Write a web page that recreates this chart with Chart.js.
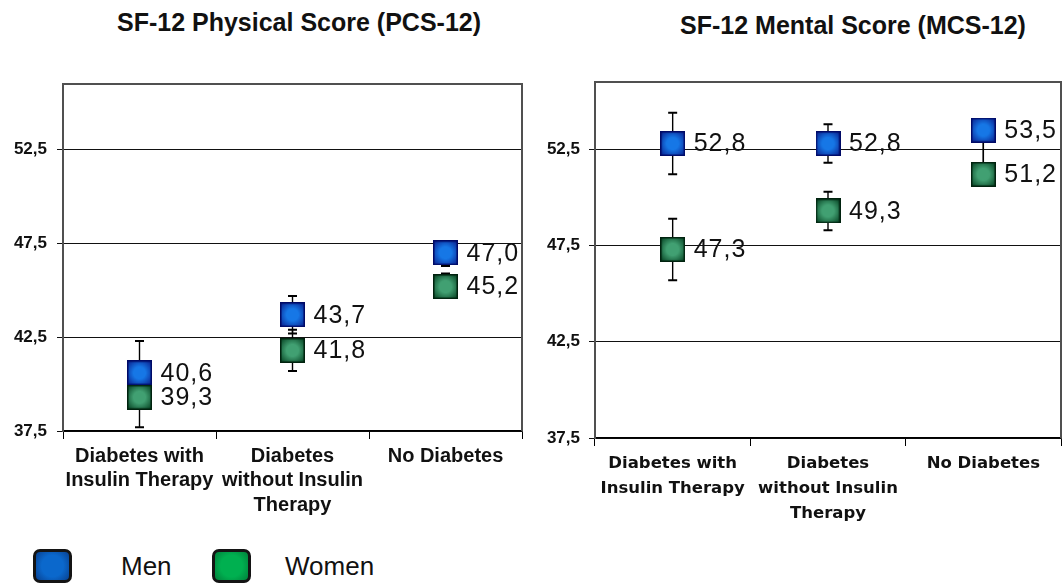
<!DOCTYPE html>
<html>
<head>
<meta charset="utf-8">
<title>SF-12 Physical and Mental Scores</title>
<script src="https://cdn.jsdelivr.net/npm/chart.js"></script>
<style>
  html, body { margin: 0; padding: 0; background: #fff; }
  body { position: relative; width: 1063px; height: 585px; overflow: hidden;
         font-family: "Liberation Sans", Arial, sans-serif; color: #111; }
  .title { position: absolute; font-weight: bold; font-size: 25px; white-space: nowrap;
           transform: translateX(-50%); }
  .plot { position: absolute; }
  .key { position: absolute; top: 549px; width: 33px; height: 28px; border: 3px solid #141414;
         border-radius: 7px; }
  .key-label { position: absolute; top: 549px; font-size: 26px; line-height: 34px; }
</style>
</head>
<body>
<div class="title" style="left:299px; top:8px">SF-12 Physical Score (PCS-12)</div>
<div class="title" style="left:853px; top:11px">SF-12 Mental Score (MCS-12)</div>
<div class="plot" style="left:0; top:0; width:545px; height:520px"><canvas id="pcsChart"></canvas></div>
<div class="plot" style="left:530px; top:0; width:533px; height:530px"><canvas id="mcsChart"></canvas></div>
<div id="legend"></div>

<script>
const groups = [['Diabetes with', 'Insulin Therapy'], ['Diabetes', 'without Insulin', 'Therapy'], 'No Diabetes'];
const seriesNames = ['Men', 'Women'];
const yTicks = [37.5, 42.5, 47.5, 52.5];

// PCS-12 means, with the lower and upper ends of each error bar
const pcsMen = [40.6, 43.7, 47.0];
const pcsMenLow = [38.9, 42.7, 46.3];
const pcsMenHigh = [42.3, 44.7, 47.6];
const pcsWomen = [39.3, 41.8, 45.2];
const pcsWomenLow = [37.7, 40.7, 44.6];
const pcsWomenHigh = [40.9, 42.9, 45.9];

// MCS-12 means and error bars
const mcsMen = [52.8, 52.8, 53.5];
const mcsMenLow = [51.2, 51.8, 51.7];
const mcsMenHigh = [54.4, 53.8, 53.9];
const mcsWomen = [47.3, 49.3, 51.2];
const mcsWomenLow = [45.7, 48.3, 50.7];
const mcsWomenHigh = [48.9, 50.3, 53.0];

const comma = v => v.toFixed(1).replace('.', ',');

// shaded square used as the point marker
function makeMarker(inner, outer, edge) {
    const size = 25;
    const c = document.createElement('canvas');
    c.width = size; c.height = size;
    const g = c.getContext('2d');
    const h = size / 2;
    const grad = g.createRadialGradient(h, h, 0, h, h, h * 1.2);
    grad.addColorStop(0, inner);
    grad.addColorStop(0.4, inner);
    grad.addColorStop(1, outer);
    g.fillStyle = grad;
    g.fillRect(0, 0, size, size);
    g.strokeStyle = edge;
    g.lineWidth = 1.5;
    g.strokeRect(0.75, 0.75, size - 1.5, size - 1.5);
    return c;
}
const menMarker = makeMarker('#1677e6', '#0b2a98', '#000a66');
const womenMarker = makeMarker('#41a072', '#0d4d2c', '#00220e');

// top and right edges of the plot frame
const frame = {
    id: 'frame',
    beforeDatasetsDraw(chart) {
        const {ctx, chartArea: a} = chart;
        ctx.save();
        ctx.strokeStyle = '#505050';
        ctx.lineWidth = 2;
        ctx.beginPath();
        ctx.moveTo(a.left, a.top);
        ctx.lineTo(a.right, a.top);
        ctx.lineTo(a.right, a.bottom);
        ctx.stroke();
        ctx.restore();
    }
};

const errorBars = {
    id: 'errorBars',
    beforeDatasetsDraw(chart) {
        const ctx = chart.ctx;
        const y = chart.scales.y;
        ctx.save();
        ctx.strokeStyle = '#000';
        chart.data.datasets.forEach((ds, i) => {
            chart.getDatasetMeta(i).data.forEach((pt, j) => {
                const top = y.getPixelForValue(ds.high[j]);
                const bot = y.getPixelForValue(ds.low[j]);
                ctx.lineWidth = 1.4;
                ctx.beginPath();
                ctx.moveTo(pt.x, top);
                ctx.lineTo(pt.x, bot);
                ctx.stroke();
                ctx.lineWidth = 2;
                ctx.beginPath();
                ctx.moveTo(pt.x - 4.5, top); ctx.lineTo(pt.x + 4.5, top);
                ctx.moveTo(pt.x - 4.5, bot); ctx.lineTo(pt.x + 4.5, bot);
                ctx.stroke();
            });
        });
        ctx.restore();
    }
};

const valueLabels = {
    id: 'valueLabels',
    afterDatasetsDraw(chart) {
        const ctx = chart.ctx;
        ctx.save();
        ctx.font = '25px "Liberation Sans", Arial, sans-serif';
        ctx.letterSpacing = '1px';
        ctx.fillStyle = '#111';
        ctx.textAlign = 'left';
        ctx.textBaseline = 'middle';
        chart.data.datasets.forEach((ds, i) => {
            chart.getDatasetMeta(i).data.forEach((pt, j) => {
                ctx.fillText(comma(ds.data[j]), pt.x + 21, pt.y + 1);
            });
        });
        ctx.restore();
    }
};

function buildChart(id, men, menLow, menHigh, women, womenLow, womenHigh, g) {
    return new Chart(document.getElementById(id), {
        type: 'line',
        data: {
            labels: groups,
            datasets: [
                { label: seriesNames[0], data: men, low: menLow, high: menHigh,
                  showLine: false, pointStyle: menMarker, pointRadius: 12 },
                { label: seriesNames[1], data: women, low: womenLow, high: womenHigh,
                  showLine: false, pointStyle: womenMarker, pointRadius: 12 }
            ]
        },
        options: {
            responsive: true,
            maintainAspectRatio: false,
            animation: false,
            layout: {
                autoPadding: false,
                padding: { left: 0, right: g.right, top: g.top, bottom: 0 }
            },
            plugins: {
                legend: { display: false },
                title: { display: false },
                tooltip: { enabled: false }
            },
            scales: {
                x: {
                    offset: true,
                    grid: { offset: true, drawOnChartArea: false, tickLength: 8, color: '#000' },
                    border: { color: '#000', width: 1.5 },
                    ticks: {
                        autoSkip: false, maxRotation: 0, minRotation: 0,
                        padding: g.xPad, color: '#111',
                        font: { family: g.xFont, weight: 'bold', size: g.xSize, lineHeight: g.xLine }
                    },
                    afterFit: s => {
                        s.height = g.xHeight;
                        s.paddingLeft = 0;
                        s.paddingRight = 0;
                    }
                },
                y: {
                    min: 37.5,
                    max: 56,
                    afterBuildTicks: s => { s.ticks = yTicks.map(v => ({ value: v })); },
                    grid: { color: '#111', tickLength: 6 },
                    border: { color: '#505050', width: 2 },
                    ticks: {
                        padding: g.yPad, color: '#111',
                        font: { family: '"Liberation Sans", Arial', weight: 'bold', size: 17 },
                        callback: v => comma(v)
                    },
                    afterFit: s => { s.width = g.yWidth; }
                }
            }
        },
        plugins: [frame, errorBars, valueLabels]
    });
}

buildChart('pcsChart', pcsMen, pcsMenLow, pcsMenHigh, pcsWomen, pcsWomenLow, pcsWomenHigh, {
    right: 23, top: 84, yWidth: 63, yPad: 10, xHeight: 89, xPad: 5,
    xFont: '"Liberation Sans", Arial', xSize: 20, xLine: 1.22
});
buildChart('mcsChart', mcsMen, mcsMenLow, mcsMenHigh, mcsWomen, mcsWomenLow, mcsWomenHigh, {
    right: 2, top: 82, yWidth: 65, yPad: 9, xHeight: 92, xPad: 5,
    xFont: '"DejaVu Sans"', xSize: 16.5, xLine: 1.52
});

// legend keys for the two series
const keyFills = [
    'radial-gradient(circle, #0b68cc 50%, #08408f 100%)',
    'radial-gradient(circle, #00b050 50%, #00803a 100%)'
];
const keyLeft = [33, 212];
const labelLeft = [121, 285];
const legend = document.getElementById('legend');
seriesNames.forEach((name, i) => {
    const box = document.createElement('div');
    box.className = 'key';
    box.style.left = keyLeft[i] + 'px';
    box.style.background = keyFills[i];
    legend.appendChild(box);
    const txt = document.createElement('div');
    txt.className = 'key-label';
    txt.style.left = labelLeft[i] + 'px';
    txt.textContent = name;
    legend.appendChild(txt);
});
</script>
</body>
</html>
